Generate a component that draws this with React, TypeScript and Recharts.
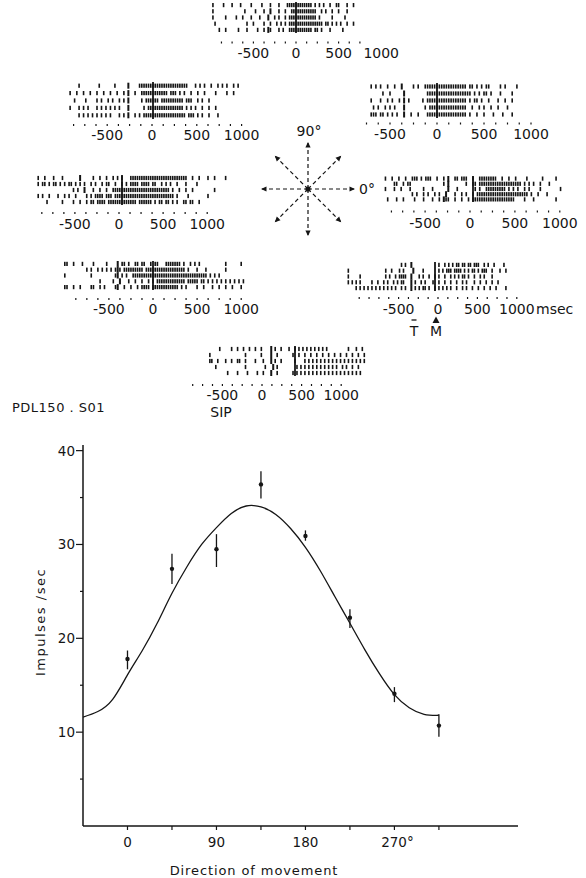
import React from "react";
import {
  ScatterChart,
  Scatter,
  XAxis,
  YAxis,
  ReferenceLine,
  ComposedChart,
  Line,
  ErrorBar,
  Label,
} from "recharts";

const FONT = "'DejaVu Sans', 'Liberation Sans', sans-serif";
const INK = "#151515";

// ---------- Directional tuning (lower plot) ----------
const directions = [0, 45, 90, 135, 180, 225, 270, 315];
const meanRates = [17.8, 27.4, 29.5, 36.4, 30.9, 22.2, 14.1, 10.7];
const errUp = [0.9, 1.6, 1.6, 1.4, 0.6, 0.9, 0.7, 1.2];
const errDown = [1.1, 1.6, 1.9, 1.5, 0.5, 1.1, 0.9, 1.2];

const fitDirections = [
  -45, -30, -15, 0, 15, 30, 45, 60, 75, 90, 105, 120, 135, 150, 165, 180, 195,
  210, 225, 240, 255, 270, 285, 300, 315,
];
const fitRates = [
  11.6, 12.2, 13.5, 16.1, 18.7, 21.6, 24.8, 27.6, 30.0, 31.8, 33.3, 34.1, 34.0,
  33.2, 31.7, 29.7, 27.2, 24.4, 21.6, 18.8, 16.2, 14.0, 12.6, 11.9, 11.8,
];

const dirTicks = [0, 45, 90, 135, 180, 225, 270, 315];
const dirLabels = [0, 90, 180, 270];
const rateTicks = [5, 10, 15, 20, 25, 30, 35, 40];
const rateLabels = [10, 20, 30, 40];

// ---------- Rasters: one string per trial, one character per 25 ms bin ----------
// "|" = impulse, "T" = target onset, "." = nothing. Spaces only group the bins.
const rasterTickLabels = [-500, 0, 500, 1000];
const BIN_MS = 25;

const raster90 = {
  start: -1000,
  rows: [
    ".|....|... |...|....| ....|...|. ..|...|||| ||||||||.| .|.|..|..| |...|..|.",
    ".|........ ......|... .|...|..T. ..|..|..|| |||||||||| ..|.|..|.. |...|....",
    ".|.....|.. ..|..|...| ...|...T.. |.|..|.||| |||||||||| .|.....|.. ...|.....",
    "..|....... .......|.. |....|..|. .|.|.|.||| |||||||||| |||.||.|.| .|..|..|.",
    "....|..|.. ...|...|.. ..|..|.T|. ..|.|..||| ||||||||.| |.|...|... ..|......",
  ],
};

const raster135 = {
  start: -925,
  rows: [
    "....|..... ...|...... |.....T... .||||||||| |||||||||| |||...|.|. |..|..|.|. |..|.|.",
    "|..|..|..| ..|..|..|. .|..|.T..| ..|||||||| ||||.|||.| .|..|..|.. |....|.... |..|...",
    "..|....|.. ..|.|..|.| ..|.|.T... ..|.|||||| .||||||||| |.|||..|.| ..|....... .......",
    "|...|.|.|. ..|.|.|.|. |.|...T... ...|.||||| |||||||||| |.|.|.|..| ..|..|.... .......",
    "....|.|.|. |.|.|.|.|. ..|.|.T..| .|.||||||| |||||||||| ||.|||.|.| ..|...|... .......",
  ],
};

const raster45 = {
  start: -700,
  rows: [
    "|.|.|..|.. |..T....|. |..||||||| |||||||||| |.||.|.|.| |....|.|.. ..|.",
    ".....|..|. ....T..... ....|||||| |||||||||| |||.|.|.|| .|...|.... |...",
    "|...|..|.| ..|.T.|... ..|.|||||| |||||||||| |.|.||.|.. |...|..|.. |...",
    ".|.|..|.|. |...T..... ...|.||||| |||||||||| |..|..|.|. .|..|...|. ....",
    "|||.||.|.| .|..T..|.. |...|||||| |||||||||| |.|..|..|. ..|...|... |...",
  ],
};

const raster180 = {
  start: -950,
  rows: [
    "|..|...|.. .|.......T .....|..|. .|..|.|.|. ..|||||||| |||||||||| ||||||||.. |..|...|.. |....|...",
    "|.||.|.||. |.|.||.|.| .|..|.|..| .||..|..|. |.||||.||| |.||..|.|. |..|...|.. ..|....... .........",
    ".......... ......|.|. .T...|..|. .|..|||||| |||||||||| |||||||||| .|..|..|.. |......... |........",
    "|.|..|...| ..|.|..|.. ..|.|.|||| .|||.||||| |||||||||| |||||||||| ||.|....|. .......|.. .........",
    "....|..... .|....|..| ..|.||.||| |.|||||||| |||||.|||| ||.|.||.|| .|.|..||.| |..|...... .........",
  ],
};

const raster0 = {
  start: -975,
  rows: [
    "|..|..|..| ..|||.|.|| |..|..|.T. .||.|||..| ..|||||||| ..|..|..|. ...|...... |.....|... .....",
    "....||..|. ||........ ......|.T. ......|..| |.|||||||| |||||||||| |.|.|.|..| ...|...... .....",
    "|...|..|.. .|.....|.. .|......T. ..|....... |.|..||||| ||||.|.|.| ..|.|....| ........|. .....",
    ".......... ..|.|..|.| ..|.|..T.. .|..|.|..| .||||||||| |||||||||| ||||.|..|. ..|....... .....",
    ".|...|..|. ...|...|.. .|..|.T||. .|..|..|.| |||||||||| ||||||||.. ..|...|... ......|... .....",
  ],
};

const raster225 = {
  start: -1000,
  rows: [
    "||..|...|. ...|.....| ....T.||.| ..||.||..| .||...|||| |||.|..|.| .|........ ...|...... |.",
    ".......... |.|..|.|.| .|.|T|.||| ||||||.||| |||||||||| |||||.|... |...|..... ...|...... ..",
    "|......... ..|....... ...|T.|.|. .||||||||| |||||||||| |||||||||| |||||.|.|. |......... ..",
    ".......... ......|... ..|..T...| ..|..|..|. |.|||||||| |||||.|||| |.||.|.|.| .|.|.|.|.| .|",
    "||..|..|.. ..||..|.|. ...|T..|.. |..|.||||. |||||||||| ||.|.|.... |..|...|.. |..|..|... |.",
  ],
};

const raster315 = {
  start: -1100,
  rows: [
    ".......... .......... .......|.| ..T....... ......|..| .|.|.||.|| .||.|||..| .|..|....| .........",
    "|......... .........| ..|...|.|. ...T....|. ......|.|. |||.||||.| .|.||.|.|| |..|...|.. |........",
    "|.....|... .........| .|..|.|||| ..T...|.|. .|..|.|..| ..|.|.|.|| .|..|..|.| ...|...... .........",
    "|.|.|.|... ..|..|..|. |..|.|.||. ..T.|..|.| ...|..|..| ..|..|..|. |...|..|.. |..|..|... .........",
    "....|.|.|. |.|.|.|.|. |.|.|..|.| ..T.|.|.|| .|..|.|.|. |.|..|..|. |..|..|..| ..|..|.... |........",
  ],
};

const raster270 = {
  start: -1075,
  rows: [
    ".....|.... .|..|..|.. |..|..|... .T.|..|... |..|.|.|.| .|.|.|.|.| .......... |...|..|..",
    "|......... ........|. ......|... .T..|..... ..|..|..|. .|..|..|.. |..|..|..| ..|..|..|.",
    "||..|...|. .|..||..|. ...|...|.. .T.|..|... ...|....|. |.|.|.|.|. |.|.|.|.|. |.|.|.|.|.",
    "...|...... ........|. ........|. ..T.|..... ....|.|.|. |.|.|.|.|. |.|.|..|.| ..|..|....",
    ".........| ....|....| ....|..|.. .T..|..... ..|.|.|.|. |.|.|.|.|. |.|.|.|.|. |.|.|.|...",
  ],
};

// Placement of each raster on the page (pixels); zeroR = movement onset, zeroL = axis zero
const rasterLayout = {
  d90: { left: 205, width: 200, rowsTop: 1.5, rowsBottom: 32.5, dotsY: 42, labelY: 52, zeroR: 296, zeroL: 296, scale: 0.0852, dotFrom: -875, dotTo: 750 },
  d135: { left: 60, width: 200, rowsTop: 82, rowsBottom: 119, dotsY: 125, labelY: 135, zeroR: 153, zeroL: 152, scale: 0.0896, dotFrom: -875, dotTo: 1000 },
  d45: { left: 360, width: 200, rowsTop: 82.5, rowsBottom: 117.5, dotsY: 123, labelY: 133, zeroR: 437, zeroL: 437, scale: 0.094, dotFrom: -750, dotTo: 1000 },
  d180: { left: 25, width: 225, rowsTop: 175, rowsBottom: 205, dotsY: 213, labelY: 224, zeroR: 122, zeroL: 119, scale: 0.0882, dotFrom: -875, dotTo: 1000 },
  d0: { left: 378, width: 208, rowsTop: 175.5, rowsBottom: 201.5, dotsY: 211, labelY: 222, zeroR: 473, zeroL: 470, scale: 0.0898, dotFrom: -875, dotTo: 1000 },
  d225: { left: 55, width: 210, rowsTop: 261, rowsBottom: 290, dotsY: 299, labelY: 309, zeroR: 153, zeroL: 153, scale: 0.0882, dotFrom: -875, dotTo: 1000 },
  d315: { left: 340, width: 200, rowsTop: 262, rowsBottom: 291, dotsY: 298, labelY: 309, zeroR: 435, zeroL: 438, scale: 0.0788, dotFrom: -1000, dotTo: 1000 },
  d270: { left: 185, width: 200, rowsTop: 346, rowsBottom: 376, dotsY: 385, labelY: 395, zeroR: 295, zeroL: 262, scale: 0.0792, dotFrom: -875, dotTo: 1000 },
};

// Compass arms of the centre-out task
const compassDirections = [0, 45, 90, 135, 180, 225, 270, 315];

type RasterData = { start: number; rows: string[] };
type Layout = (typeof rasterLayout)["d90"];

function parseRaster(data: RasterData) {
  const spikes: { t: number; row: number }[] = [];
  const targets: { t: number; row: number }[] = [];
  data.rows.forEach((r, i) => {
    const bins = r.replace(/ /g, "");
    for (let k = 0; k < bins.length; k++) {
      const t = data.start + k * BIN_MS;
      if (bins[k] === "|") spikes.push({ t, row: i + 1 });
      else if (bins[k] === "T") targets.push({ t, row: i + 1 });
    }
  });
  return { spikes, targets };
}

const SpikeMark = (p: any) => (
  <rect x={p.cx - 0.8} y={p.cy - 2.1} width={1.6} height={4.2} fill={INK} />
);
const TargetMark = (p: any) => (
  <rect x={p.cx - 1} y={p.cy - 3} width={2} height={6} fill={INK} />
);

function RasterPanel({ layout, data }: { layout: Layout; data: RasterData }) {
  const { left, width, rowsTop, rowsBottom, dotsY, labelY, zeroR, zeroL, scale, dotFrom, dotTo } = layout;
  const plotH = rowsBottom - rowsTop;
  const axisH = labelY + 9 - rowsBottom;
  const { spikes, targets } = parseRaster(data);
  const domR = [(left - zeroR) / scale, (left + width - zeroR) / scale];
  // the printed time scale sits shifted from the movement-onset line by this many ms
  const shift = (zeroL - zeroR) / scale;
  const dots: number[] = [];
  for (let t = dotFrom; t <= dotTo; t += 125) dots.push(t);
  const scaleValues = Array.from(new Set([...dots, ...rasterTickLabels])).sort((a, b) => a - b);
  const ticks = scaleValues.map((v) => v + shift);

  const renderTick = (p: any) => {
    const v = Math.round(p.payload.value - shift);
    return (
      <g>
        {dots.includes(v) && (
          <rect x={p.x - 0.6} y={p.y + dotsY - rowsBottom - 1} width={1.2} height={2} fill={INK} />
        )}
        {rasterTickLabels.includes(v) && (
          <text
            x={p.x}
            y={p.y + labelY - rowsBottom}
            textAnchor="middle"
            dominantBaseline="central"
            fontFamily={FONT}
            fontSize={14}
            fill={INK}
          >
            {String(v)}
          </text>
        )}
      </g>
    );
  };

  return (
    <div style={{ position: "absolute", left, top: rowsTop }}>
      <ScatterChart width={width} height={plotH + axisH} margin={{ top: 0, right: 0, bottom: 0, left: 0 }}>
        <XAxis
          type="number"
          dataKey="t"
          domain={domR}
          ticks={ticks}
          interval={0}
          tick={renderTick}
          tickLine={false}
          axisLine={false}
          tickSize={0}
          tickMargin={0}
          height={axisH}
          allowDataOverflow
        />
        <YAxis type="number" dataKey="row" domain={[0.5, 5.5]} reversed hide allowDataOverflow />
        <ReferenceLine x={0} stroke={INK} strokeWidth={1.8} />
        <Scatter data={spikes} shape={SpikeMark} isAnimationActive={false} />
        <Scatter data={targets} shape={TargetMark} isAnimationActive={false} />
      </ScatterChart>
    </div>
  );
}

function Compass() {
  const R = 55 / 47;
  const tips = compassDirections.map((d) => ({
    x: Math.cos((d * Math.PI) / 180),
    y: Math.sin((d * Math.PI) / 180),
    dir: d,
  }));
  const Head = (p: any) => (
    <polygon
      points="0,0 -5.5,-2.6 -5.5,2.6"
      fill={INK}
      transform={`translate(${p.cx},${p.cy}) rotate(${-p.payload.dir})`}
    />
  );
  const Hub = (p: any) => <circle cx={p.cx} cy={p.cy} r={2.6} fill={INK} />;
  return (
    <div style={{ position: "absolute", left: 253, top: 134 }}>
      <ScatterChart width={110} height={110} margin={{ top: 0, right: 0, bottom: 0, left: 0 }}>
        <XAxis type="number" dataKey="x" domain={[-R, R]} hide />
        <YAxis type="number" dataKey="y" domain={[-R, R]} hide />
        {tips.map((t) => (
          <ReferenceLine
            key={t.dir}
            segment={[{ x: 0, y: 0 }, { x: t.x, y: t.y }]}
            stroke={INK}
            strokeWidth={1.2}
            strokeDasharray="4 3"
          />
        ))}
        <Scatter data={tips} shape={Head} isAnimationActive={false} />
        <Scatter data={[{ x: 0, y: 0 }]} shape={Hub} isAnimationActive={false} />
      </ScatterChart>
    </div>
  );
}

function TuningPlot() {
  const fitData = fitDirections.map((dir, i) => ({ dir, rate: fitRates[i] }));
  const pointData = directions.map((dir, i) => ({
    dir,
    rate: meanRates[i],
    err: [errDown[i], errUp[i]],
  }));

  const DirTick = (p: any) => {
    const v = p.payload.value;
    const major = dirLabels.includes(v);
    return (
      <g>
        <line x1={p.x} x2={p.x} y1={p.y} y2={p.y + 4} stroke={INK} strokeWidth={1.2} />
        {major && (
          <text
            x={p.x + (v === 270 ? 3 : 0)}
            y={p.y + 16}
            textAnchor="middle"
            dominantBaseline="central"
            fontFamily={FONT}
            fontSize={13.5}
            fill={INK}
          >
            {v === 270 ? "270°" : String(v)}
          </text>
        )}
      </g>
    );
  };

  const RateTick = (p: any) => {
    const v = p.payload.value;
    const major = rateLabels.includes(v);
    return (
      <g>
        <line x1={p.x - (major ? 7 : 3)} x2={p.x} y1={p.y} y2={p.y} stroke={INK} strokeWidth={1.2} />
        {major && (
          <text
            x={p.x - 8}
            y={p.y}
            textAnchor="end"
            dominantBaseline="central"
            fontFamily={FONT}
            fontSize={13.5}
            fill={INK}
          >
            {String(v)}
          </text>
        )}
      </g>
    );
  };

  const Dot = (p: any) => <circle cx={p.cx} cy={p.cy} r={2.2} fill={INK} />;

  return (
    <div style={{ position: "absolute", left: 0, top: 400 }}>
      <ComposedChart width={586} height={478} margin={{ top: 45, right: 68, bottom: 0, left: 0 }}>
        <XAxis
          type="number"
          dataKey="dir"
          domain={[-45, 395]}
          ticks={dirTicks}
          interval={0}
          tick={DirTick}
          tickLine={false}
          tickSize={0}
          tickMargin={0}
          axisLine={{ stroke: INK, strokeWidth: 1.3 }}
          height={52}
          allowDataOverflow
        >
          <Label
            content={() => (
              <text
                x={254}
                y={470}
                textAnchor="middle"
                dominantBaseline="central"
                fontFamily={FONT}
                fontSize={13}
                letterSpacing={0.9}
                fill={INK}
              >
                Direction of movement
              </text>
            )}
          />
        </XAxis>
        <YAxis
          type="number"
          domain={[0, 40.6]}
          ticks={rateTicks}
          interval={0}
          tick={RateTick}
          tickLine={false}
          tickSize={0}
          tickMargin={0}
          axisLine={{ stroke: INK, strokeWidth: 1.5 }}
          width={83}
          allowDataOverflow
        >
          <Label
            content={() => (
              <text
                x={40}
                y={222}
                transform="rotate(-90 40 222)"
                textAnchor="middle"
                dominantBaseline="central"
                fontFamily={FONT}
                fontSize={13}
                letterSpacing={1.5}
                fill={INK}
              >
                Impulses /sec
              </text>
            )}
          />
        </YAxis>
        <Line
          data={fitData}
          dataKey="rate"
          type="natural"
          stroke={INK}
          strokeWidth={1.3}
          dot={false}
          isAnimationActive={false}
        />
        <Scatter data={pointData} dataKey="rate" shape={Dot} isAnimationActive={false}>
          <ErrorBar dataKey="err" direction="y" width={0} stroke={INK} strokeWidth={1.3} />
        </Scatter>
      </ComposedChart>
    </div>
  );
}

function Annotations() {
  const t = { fontFamily: FONT, fontSize: 14, fill: INK } as const;
  return (
    <svg
      width={586}
      height={878}
      style={{ position: "absolute", left: 0, top: 0, pointerEvents: "none" }}
    >
      <text x={309} y={131} textAnchor="middle" dominantBaseline="central" {...t}>
        90°
      </text>
      <text x={359} y={189} dominantBaseline="central" {...t}>
        0°
      </text>
      <text x={536} y={309} dominantBaseline="central" {...t}>
        msec
      </text>
      <line x1={411.5} x2={416.5} y1={320} y2={320} stroke={INK} strokeWidth={1.3} />
      <text x={414} y={331} textAnchor="middle" dominantBaseline="central" {...t}>
        T
      </text>
      <polygon points="436,316.5 432.5,323 439.5,323" fill={INK} />
      <text x={436} y={331} textAnchor="middle" dominantBaseline="central" {...t}>
        M
      </text>
      <text x={221} y={412} textAnchor="middle" dominantBaseline="central" {...t}>
        SIP
      </text>
      <text x={12} y={407} dominantBaseline="central" letterSpacing={0.5} {...t} fontSize={13}>
        PDL150 . S01
      </text>
    </svg>
  );
}

export default function App() {
  return (
    <div
      style={{
        position: "absolute",
        left: 0,
        top: 0,
        width: 586,
        height: 878,
        background: "#ffffff",
        overflow: "hidden",
      }}
    >
      <RasterPanel layout={rasterLayout.d90} data={raster90} />
      <RasterPanel layout={rasterLayout.d135} data={raster135} />
      <RasterPanel layout={rasterLayout.d45} data={raster45} />
      <RasterPanel layout={rasterLayout.d180} data={raster180} />
      <RasterPanel layout={rasterLayout.d0} data={raster0} />
      <RasterPanel layout={rasterLayout.d225} data={raster225} />
      <RasterPanel layout={rasterLayout.d315} data={raster315} />
      <RasterPanel layout={rasterLayout.d270} data={raster270} />
      <Compass />
      <TuningPlot />
      <Annotations />
    </div>
  );
}
